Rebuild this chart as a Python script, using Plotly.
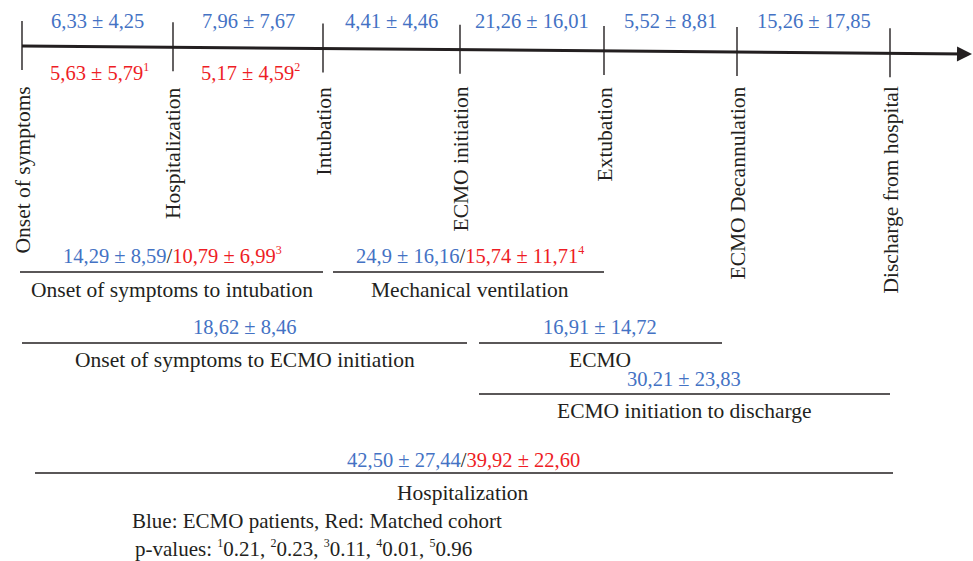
import plotly.graph_objects as go

# ---------------- data ----------------
events = ["Onset of symptoms", "Hospitalization", "Intubation", "ECMO initiation",
          "Extubation", "ECMO Decannulation", "Discharge from hospital"]
interval_ecmo = ["6,33 ± 4,25", "7,96 ± 7,67", "4,41 ± 4,46", "21,26 ± 16,01",
                 "5,52 ± 8,81", "15,26 ± 17,85"]
interval_matched = ["5,63 ± 5,79", "5,17 ± 4,59"]
interval_matched_sup = ["1", "2"]

span_names = ["Onset of symptoms to intubation", "Mechanical ventilation",
              "Onset of symptoms to ECMO initiation", "ECMO",
              "ECMO initiation to discharge", "Hospitalization"]
span_ecmo = ["14,29 ± 8,59", "24,9 ± 16,16", "18,62 ± 8,46", "16,91 ± 14,72",
             "30,21 ± 23,83", "42,50 ± 27,44"]
span_matched = ["10,79 ± 6,99", "15,74 ± 11,71", None, None, None, "39,92 ± 22,60"]
span_sup = ["3", "4", None, None, None, None]

legend_text = "Blue: ECMO patients, Red: Matched cohort"
pvalue_labels = ["1", "2", "3", "4", "5"]
pvalues = ["0.21", "0.23", "0.11", "0.01", "0.96"]

# ---------------- layout (pixel positions) ----------------
W, H = 973, 561
BLUE = "#4472C4"
RED = "#EE1D25"
BLACK = "#231F20"
FONT = "Liberation Serif"
FS_NUM = 20.5
FS_TXT = 21.5
FS_LEG = 21


def sup(s):
    return f"<sup><span style='font-size:12px'>{s}</span></sup>"


event_x = [22, 173, 323, 460, 604, 737, 890]
line_x0, line_y0, line_x1, line_y1 = 22, 46, 972, 54


def line_y(x):
    return line_y0 + (x - line_x0) * (line_y1 - line_y0) / (line_x1 - line_x0)


# span geometry: (x0, x1, line y, number y, label y)
span_geom = [(20, 323, 272, 255, 290), (333, 604, 272, 255, 290),
             (22, 467, 343, 327, 360), (479, 722, 343, 327, 360),
             (479, 890, 394, 379, 411), (35, 893, 473, 460, 493)]
span_center = [172, 470, 245, 600, 684, 463]

fig = go.Figure()

# main timeline
fig.add_trace(go.Scatter(x=[line_x0, line_x1 - 6], y=[line_y0, line_y(line_x1 - 6)],
                         mode="lines", line=dict(color=BLACK, width=3),
                         hoverinfo="skip", showlegend=False))
fig.add_annotation(x=line_x1, y=line_y1, ax=line_x1 - 10, ay=line_y(line_x1 - 10),
                   xref="x", yref="y", axref="x", ayref="y", text="",
                   showarrow=True, arrowhead=2, arrowsize=1.2, arrowwidth=2.5,
                   arrowcolor=BLACK)

# event ticks
tx, ty = [], []
for x in event_x:
    yc = line_y(x)
    tx += [x, x, None]
    ty += [yc - 25, yc + 24, None]
fig.add_trace(go.Scatter(x=tx, y=ty, mode="lines", line=dict(color=BLACK, width=1.4),
                         hoverinfo="skip", showlegend=False))

# event labels (rotated)
for x, name in zip(event_x, events):
    fig.add_annotation(x=x, y=85, text=name, textangle=-90, showarrow=False,
                       xanchor="center", yanchor="top",
                       font=dict(family=FONT, size=FS_TXT, color=BLACK))

# intervals between events
for i, val in enumerate(interval_ecmo):
    xc = (event_x[i] + event_x[i + 1]) / 2
    fig.add_annotation(x=xc, y=21, text=val, showarrow=False,
                       font=dict(family=FONT, size=FS_NUM, color=BLUE))
for i, val in enumerate(interval_matched):
    xc = (event_x[i] + event_x[i + 1]) / 2 + 2
    fig.add_annotation(x=xc, y=72, text=f"{val}{sup(interval_matched_sup[i])}",
                       showarrow=False, font=dict(family=FONT, size=FS_NUM, color=RED))

# spans
sx, sy = [], []
for (x0, x1, ly, ny, lby), xc, name, e, m, s in zip(span_geom, span_center, span_names,
                                                    span_ecmo, span_matched, span_sup):
    sx += [x0, x1, None]
    sy += [ly, ly, None]
    if m is not None:
        txt = (f"<span style='color:{BLUE}'>{e}</span>/"
               f"<span style='color:{RED}'>{m}"
               + (sup(s) if s else "") + "</span>")
        color = BLACK
    else:
        txt = e
        color = BLUE
    fig.add_annotation(x=xc, y=ny, text=txt, showarrow=False,
                       font=dict(family=FONT, size=FS_NUM, color=color))
    fig.add_annotation(x=xc, y=lby, text=name, showarrow=False,
                       font=dict(family=FONT, size=FS_TXT, color=BLACK))
fig.add_trace(go.Scatter(x=sx, y=sy, mode="lines", line=dict(color=BLACK, width=1.5),
                         hoverinfo="skip", showlegend=False))

# footnotes
fig.add_annotation(x=130, y=521, text=legend_text, showarrow=False, xanchor="left",
                   font=dict(family=FONT, size=FS_LEG, color=BLACK))
ptxt = "p-values: " + ", ".join(f"{sup(l)}{p}" for l, p in zip(pvalue_labels, pvalues))
fig.add_annotation(x=133, y=548, text=ptxt, showarrow=False, xanchor="left",
                   font=dict(family=FONT, size=FS_LEG, color=BLACK))

fig.update_layout(width=W, height=H, margin=dict(l=0, r=0, t=0, b=0),
                  paper_bgcolor="white", plot_bgcolor="white",
                  xaxis=dict(range=[0, W], visible=False, fixedrange=True),
                  yaxis=dict(range=[H, 0], visible=False, fixedrange=True),
                  showlegend=False)

fig.write_html("out.html", config={"displayModeBar": False},
               post_script="document.body.style.margin='0';"
                           "document.body.style.overflow='hidden';")
